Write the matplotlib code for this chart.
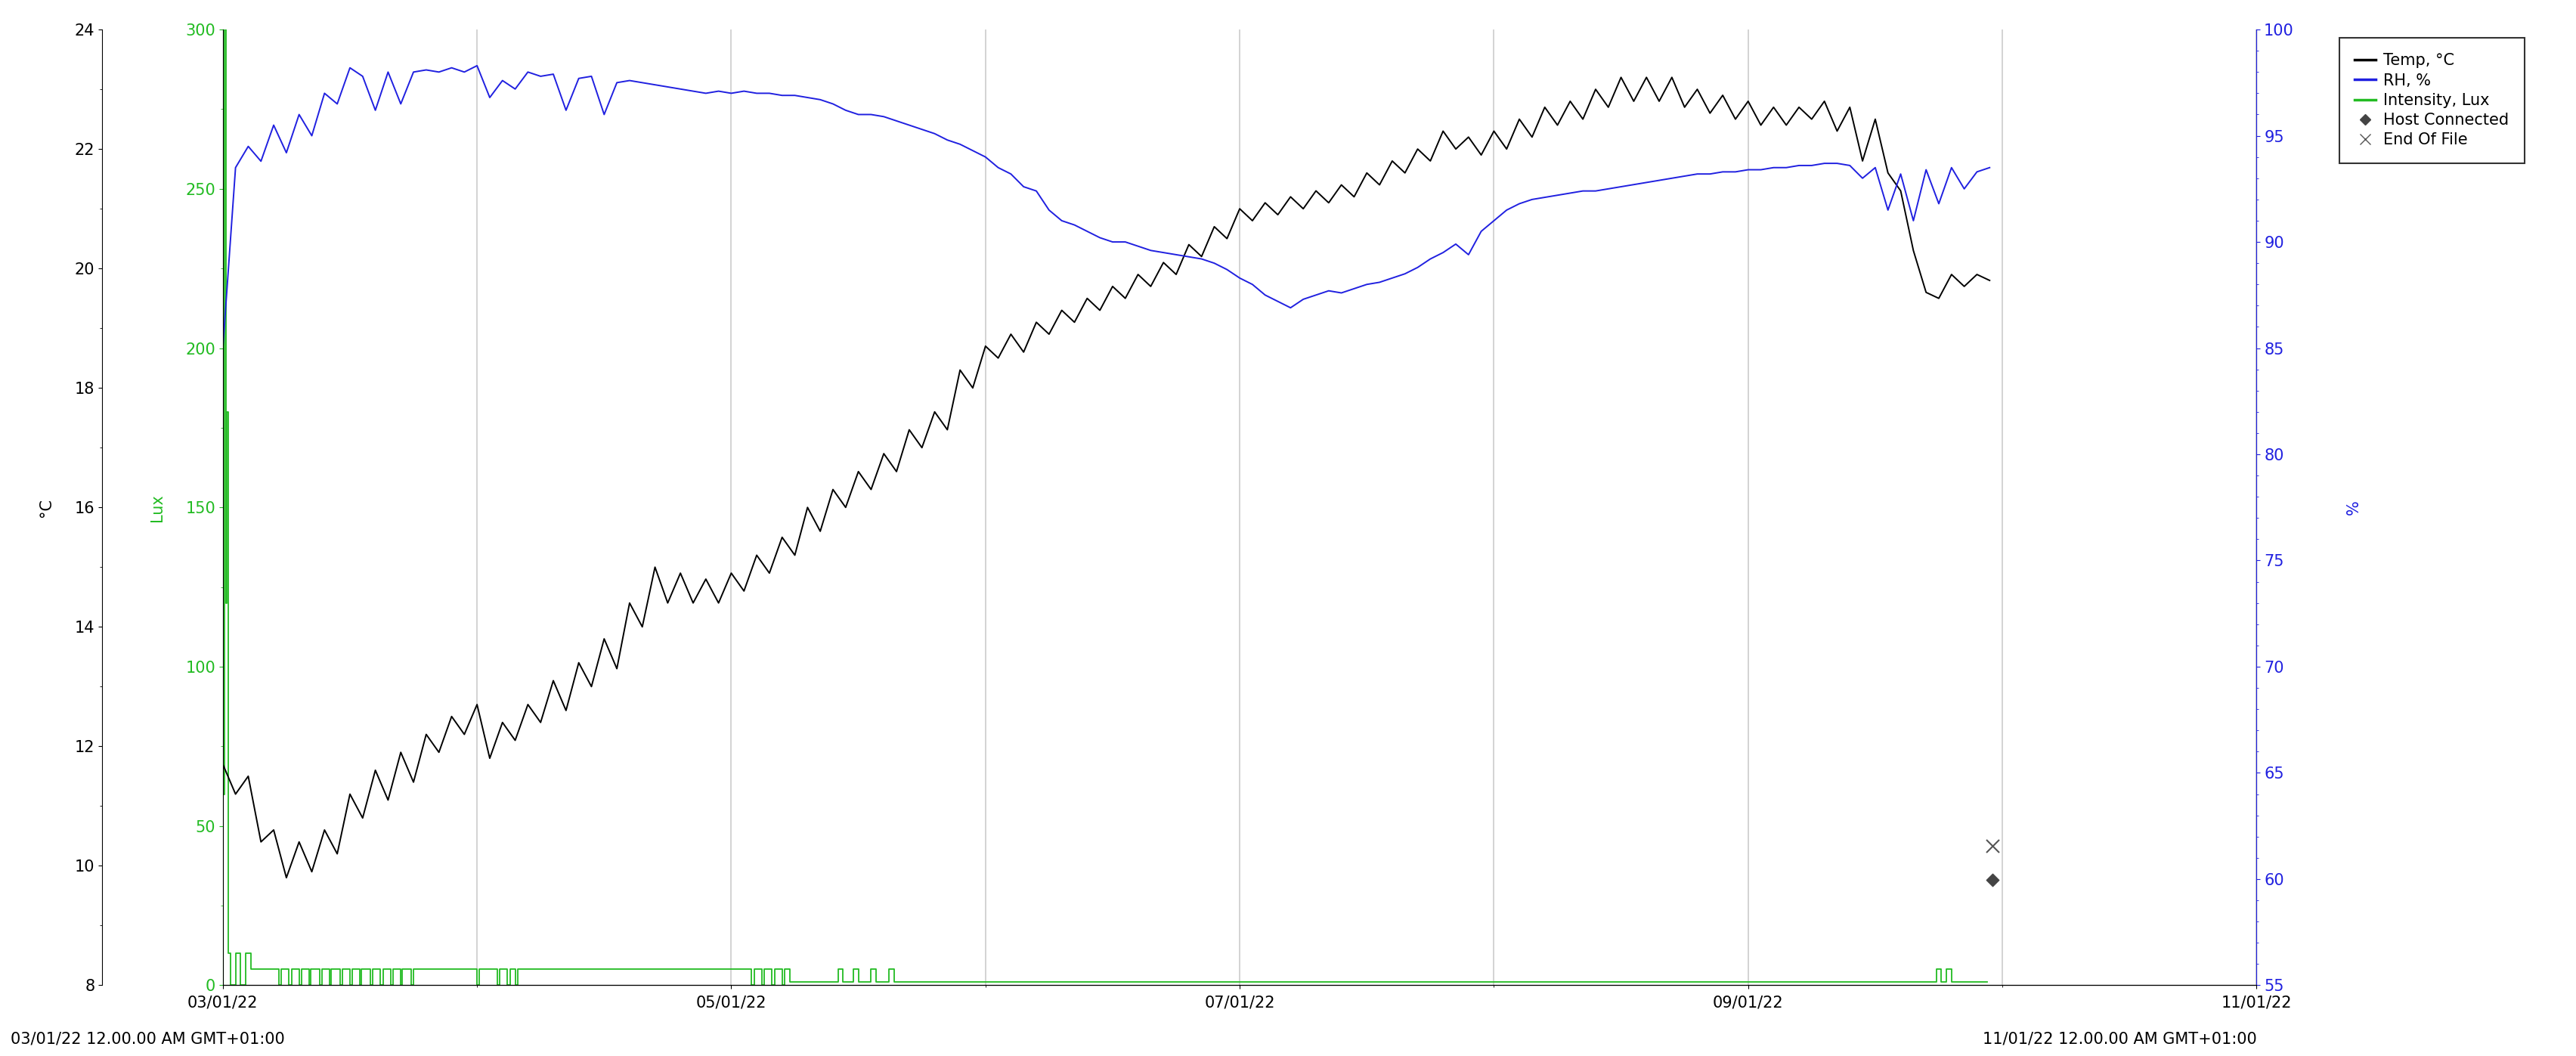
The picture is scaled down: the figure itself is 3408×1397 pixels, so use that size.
import numpy as np
import matplotlib
matplotlib.use("Agg")
import matplotlib.pyplot as plt
from matplotlib.ticker import MultipleLocator
from matplotlib.lines import Line2D

temp = [11.7,11.2,11.5,10.4,10.6,9.8,10.4,9.9,10.6,10.2,11.2,10.8,11.6,11.1,11.9,11.4,12.2,11.9,12.5,12.2,
        12.7,11.8,12.4,12.1,12.7,12.4,13.1,12.6,13.4,13.0,13.8,13.3,14.4,14.0,15.0,14.4,14.9,14.4,14.8,14.4,
        14.9,14.6,15.2,14.9,15.5,15.2,16.0,15.6,16.3,16.0,16.6,16.3,16.9,16.6,17.3,17.0,17.6,17.3,18.3,18.0,
        18.7,18.5,18.9,18.6,19.1,18.9,19.3,19.1,19.5,19.3,19.7,19.5,19.9,19.7,20.1,19.9,20.4,20.2,20.7,20.5,
        21.0,20.8,21.1,20.9,21.2,21.0,21.3,21.1,21.4,21.2,21.6,21.4,21.8,21.6,22.0,21.8,22.3,22.0,22.2,21.9,
        22.3,22.0,22.5,22.2,22.7,22.4,22.8,22.5,23.0,22.7,23.2,22.8,23.2,22.8,23.2,22.7,23.0,22.6,22.9,22.5,
        22.8,22.4,22.7,22.4,22.7,22.5,22.8,22.3,22.7,21.8,22.5,21.6,21.3,20.3,19.6,19.5,19.9,19.7,19.9,19.8]
rh = [85,93.5,94.5,93.8,95.5,94.2,96.0,95.0,97.0,96.5,98.2,97.8,96.2,98.0,96.5,98.0,98.1,98.0,98.2,98.0,
      98.3,96.8,97.6,97.2,98.0,97.8,97.9,96.2,97.7,97.8,96.0,97.5,97.6,97.5,97.4,97.3,97.2,97.1,97.0,97.1,
      97.0,97.1,97.0,97.0,96.9,96.9,96.8,96.7,96.5,96.2,96.0,96.0,95.9,95.7,95.5,95.3,95.1,94.8,94.6,94.3,
      94.0,93.5,93.2,92.6,92.4,91.5,91.0,90.8,90.5,90.2,90.0,90.0,89.8,89.6,89.5,89.4,89.3,89.2,89.0,88.7,
      88.3,88.0,87.5,87.2,86.9,87.3,87.5,87.7,87.6,87.8,88.0,88.1,88.3,88.5,88.8,89.2,89.5,89.9,89.4,90.5,
      91.0,91.5,91.8,92.0,92.1,92.2,92.3,92.4,92.4,92.5,92.6,92.7,92.8,92.9,93.0,93.1,93.2,93.2,93.3,93.3,
      93.4,93.4,93.5,93.5,93.6,93.6,93.7,93.7,93.6,93.0,93.5,91.5,93.2,91.0,93.4,91.8,93.5,92.5,93.3,93.5]
lux_t = [0.0,0.008,0.012,0.016,0.02,0.03,0.05,0.07,0.09,0.11,0.13,
         0.22,0.23,0.26,0.27,0.30,0.31,0.34,0.345,0.38,0.39,0.42,0.425,0.46,0.47,0.50,0.51,0.54,0.545,
         0.58,0.59,0.62,0.63,0.66,0.67,0.70,0.705,0.74,0.75,0.78,
         1.0,1.01,1.08,1.09,1.12,1.13,1.15,1.16,
         2.08,2.09,2.12,2.13,2.16,2.17,2.20,2.21,2.23,
         2.42,2.44,2.48,2.50,2.55,2.57,2.62,2.64,
         6.74,6.76,6.78,6.80,6.94]
lux_v = [60,300,120,180,10,0,10,0,10,5,5,
         0,5,0,5,0,5,0,5,0,5,0,5,0,5,0,5,0,5,
         0,5,0,5,0,5,0,5,0,5,5,
         0,5,0,5,0,5,0,5,
         0,5,0,5,0,5,0,5,1,
         5,1,5,1,5,1,5,1,
         5,1,5,1,1]
host_connected = (6.96, 9.77)
end_of_file = (6.96, 10.33)
day_labels = ["03/01/22", "05/01/22", "07/01/22", "09/01/22", "11/01/22"]

t = np.arange(len(temp)) * 0.05

fig = plt.figure(figsize=(34.08, 13.97), dpi=100)
fs = 15
axL = fig.add_axes([0.0865, 0.067, 0.7895, 0.905])
axC = axL.twinx()
axR = axL.twinx()
axC.spines["right"].set_visible(False)
axC.yaxis.set_label_position("left"); axC.yaxis.set_ticks_position("left")
axC.spines["left"].set_position(("outward", 115))
axC.spines["left"].set_visible(True)

axL.step(lux_t, lux_v, where="post", color="#22bb22", lw=1.3)
axR.plot(t, rh, color="#2020e0", lw=1.4)
axC.plot(t, temp, color="black", lw=1.4)
axC.scatter([host_connected[0]], [host_connected[1]], marker="D", s=70, color="#444444", zorder=5)
axC.scatter([end_of_file[0]], [end_of_file[1]], marker="x", s=150, color="#555555", lw=1.5, zorder=5)

axL.set_xlim(0, 8)
axL.set_ylim(0, 300); axC.set_ylim(8, 24); axR.set_ylim(55, 100)
axL.set_xticks([0, 2, 4, 6, 8]); axL.set_xticklabels(day_labels, fontsize=fs)
axL.tick_params(axis="x", pad=6)
axL.xaxis.set_minor_locator(MultipleLocator(1))
axL.grid(True, which="both", axis="x", color="#cccccc", lw=1.2)
axL.yaxis.set_major_locator(MultipleLocator(50)); axL.yaxis.set_minor_locator(MultipleLocator(25))
axC.yaxis.set_major_locator(MultipleLocator(2)); axC.yaxis.set_minor_locator(MultipleLocator(1))
axR.yaxis.set_major_locator(MultipleLocator(5)); axR.yaxis.set_minor_locator(MultipleLocator(1))
for ax, c in [(axL, "#22bb22"), (axC, "black"), (axR, "#2020e0")]:
    ax.tick_params(axis="y", colors=c, labelsize=fs, which="both")
axL.spines["left"].set_color("#22bb22")
axR.spines["right"].set_color("#2020e0")
axL.set_ylabel("Lux", color="#22bb22", fontsize=fs, labelpad=20)
axC.set_ylabel("°C", color="black", fontsize=fs, labelpad=20)
axR.set_ylabel("%", color="#2020e0", fontsize=fs, labelpad=50)
axL.spines["top"].set_visible(False)
for ax in (axC, axR):
    ax.spines["top"].set_visible(False)

fig.text(0.004, 0.012, "03/01/22 12.00.00 AM GMT+01:00", fontsize=fs, ha="left")
fig.text(0.876, 0.012, "11/01/22 12.00.00 AM GMT+01:00", fontsize=fs, ha="right")

handles = [Line2D([], [], color="black", lw=2.5), Line2D([], [], color="#2020e0", lw=2.5),
           Line2D([], [], color="#22bb22", lw=2.5),
           Line2D([], [], color="#444444", marker="D", ls="none", markersize=7),
           Line2D([], [], color="#555555", marker="x", ls="none", markersize=10)]
fig.legend(handles, ["Temp, °C", "RH, %", "Intensity, Lux", "Host Connected", "End Of File"],
           loc="upper left", bbox_to_anchor=(0.905, 0.972), fontsize=fs, frameon=True,
           fancybox=False, edgecolor="black", handlelength=1.3, borderpad=1.0,
           labelspacing=0.3, handletextpad=0.5).get_frame().set_linewidth(1.5)
fig.savefig("out.png", dpi=100)
